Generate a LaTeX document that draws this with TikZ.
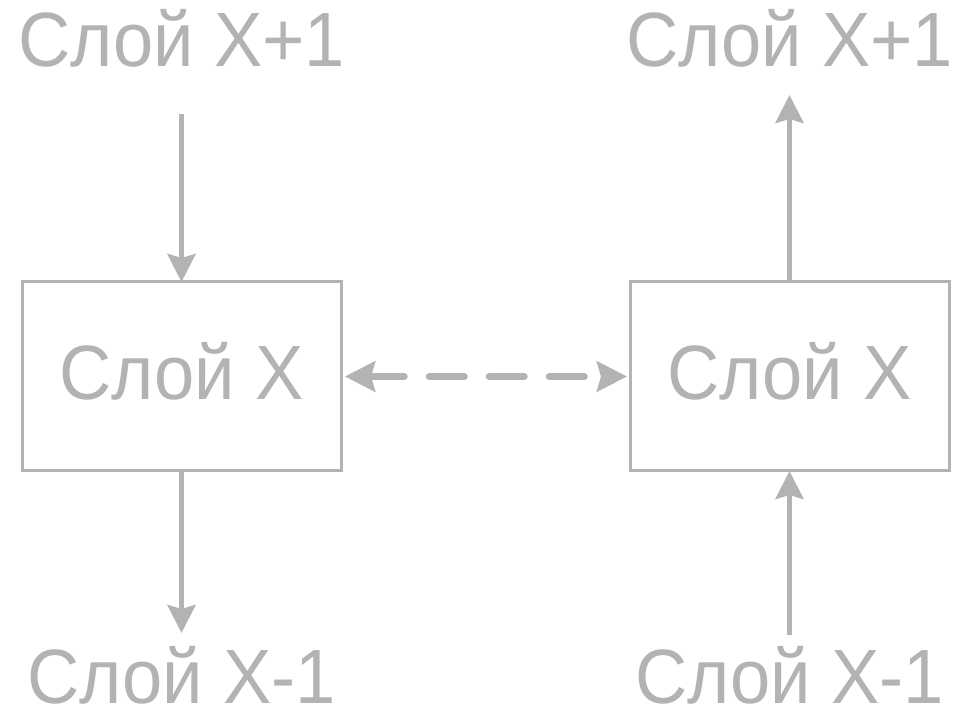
\documentclass[tikz,border=0pt]{standalone}
\usepackage{fontspec}
\setmainfont{Liberation Sans}
\newfontfamily\layerfont[FakeStretch=0.94]{Liberation Sans}
\usetikzlibrary{positioning, arrows.meta}
\usepackage{xcolor}
\definecolor{layergray}{HTML}{B3B3B3}

\begin{document}
\begin{tikzpicture}[x=1pt, y=1pt, auto]
\useasboundingbox (0,0) rectangle (953,708);

% Styles for layers and arrows
\tikzstyle{layer} = [rectangle, draw=layergray, line width=3pt, outer sep=0pt, text=layergray, minimum width=319pt, minimum height=189pt, text height=55pt, text depth=8pt, font=\layerfont\fontsize{77}{80}\selectfont]
\tikzstyle{layername} = [text=layergray, inner sep=0pt, text height=55pt, text depth=0pt, font=\layerfont\fontsize{77}{80}\selectfont]
\tikzstyle{flow} = [draw=layergray, line width=5pt, -{Stealth[length=28pt, width=28pt, inset=4pt]}]
\tikzstyle{peer} = [draw=layergray, line width=7pt, line cap=round, dash pattern=on 35pt off 25pt, {Stealth[length=30pt, width=30pt, inset=4pt]}-{Stealth[length=30pt, width=30pt, inset=4pt]}]

% Nodes
\node [layer] (layerA) at (181.5,331.5) {Слой X};
\node [layer, right=289pt of layerA] (layerB) {Слой X};
\node [layername, above=215pt of layerA] (aboveA) {Слой X+1};
\node [layername, below=177pt of layerA] (belowA) {Слой X-1};
\node [layername, above=215pt of layerB] (aboveB) {Слой X+1};
\node [layername, below=177pt of layerB] (belowB) {Слой X-1};

% Edges
\draw [flow, shorten <=47pt] (aboveA) -- (layerA);
\draw [flow, shorten >=15pt] (layerA) -- (belowA);
\draw [flow, shorten >=28pt] (layerB) -- (aboveB);
\draw [flow, shorten <=13pt] (belowB) -- (layerB);
\draw [peer, shorten <=4pt, shorten >=3pt] (layerA) -- (layerB);

\end{tikzpicture}
\end{document}
